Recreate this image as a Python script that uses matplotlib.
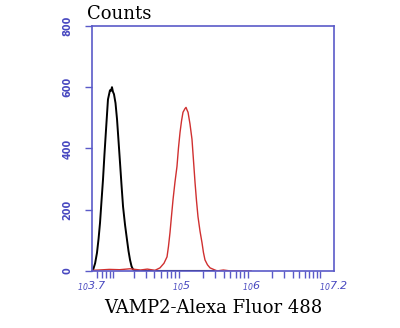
import numpy as np
import matplotlib
matplotlib.use("Agg")
import matplotlib.pyplot as plt
from matplotlib.ticker import FixedLocator, LogLocator, NullFormatter

# control (black) histogram, log10 intensity vs counts
ctrl_log = [3.70, 3.714, 3.745, 3.772, 3.795, 3.816, 3.838, 3.859, 3.880, 3.903,
            3.931, 3.960, 3.975, 3.989, 4.003, 4.018, 4.040, 4.062, 4.085, 4.105,
            4.127, 4.149, 4.178, 4.206, 4.228, 4.250, 4.272, 4.293, 4.336, 4.60,
            5.0, 5.5]
ctrl_counts = [0, 2, 25, 59, 105, 157, 230, 298, 380, 462,
               560, 590, 588, 600, 585, 577, 548, 495, 420, 354,
               280, 210, 150, 102, 65, 36, 15, 5, 0, 0,
               0, 0]

# VAMP2 stained (red) histogram
vamp_log = [3.70, 3.80, 3.95, 4.10, 4.25, 4.40, 4.50, 4.611, 4.683, 4.741, 4.785,
            4.806, 4.828, 4.850, 4.872, 4.900, 4.929, 4.950, 4.973, 4.995, 5.016,
            5.045, 5.060, 5.075, 5.089, 5.117, 5.146, 5.168, 5.190, 5.211, 5.233,
            5.262, 5.291, 5.312, 5.334, 5.370, 5.407, 5.508, 5.60, 5.70, 6.0]
vamp_counts = [2, 3, 5, 4, 7, 3, 6, 2, 10, 25, 46,
               80, 125, 180, 233, 290, 341, 400, 452, 490, 518,
               530, 534, 525, 518, 480, 430, 360, 289, 230, 177,
               130, 92, 60, 36, 20, 10, 0, 3, 0, 0]

xtick_exp = [3.7, 5, 6, 7.2]
xtick_labels = [r"$\mathregular{_{10}}$3.7", r"$\mathregular{_{10}}$5",
                r"$\mathregular{_{10}}$6", r"$\mathregular{_{10}}$7.2"]
yticks = [0, 200, 400, 600, 800]

axis_blue = "#5a5ac8"
label_blue = "#4848c0"

fig = plt.figure(figsize=(4, 3.28), dpi=100)
ax = fig.add_axes([0.23, 0.174, 0.605, 0.747])

ax.plot(10 ** np.array(ctrl_log), ctrl_counts, color="black", lw=1.4)
ax.plot(10 ** np.array(vamp_log), vamp_counts, color="#d03030", lw=1.0)

ax.set_xscale("log")
ax.set_xlim(10 ** 3.7, 10 ** 7.2)
ax.set_ylim(0, 800)

ax.xaxis.set_major_locator(FixedLocator([10 ** e for e in xtick_exp]))
ax.set_xticklabels(xtick_labels)
ax.xaxis.set_minor_locator(LogLocator(base=10, subs=np.arange(1, 10), numticks=20))
ax.xaxis.set_minor_formatter(NullFormatter())
ax.tick_params(axis="x", which="major", length=0, pad=6, colors=label_blue,
               labelsize=8)
ax.tick_params(axis="x", which="minor", length=5, width=1, color=axis_blue,
               direction="out")
for t in ax.get_xticklabels():
    t.set_fontstyle("italic")

ax.set_yticks(yticks)
ax.tick_params(axis="y", length=5, width=1, color=axis_blue, labelcolor=label_blue,
               labelsize=7, pad=9)
for t in ax.get_yticklabels():
    t.set_rotation(90)
    t.set_va("center")
    t.set_fontweight("bold")

for s in ax.spines.values():
    s.set_color(axis_blue)
    s.set_linewidth(1.2)

ax.text(-0.02, 1.01, "Counts", transform=ax.transAxes, ha="left", va="bottom",
        fontsize=13, family="DejaVu Serif")
ax.set_xlabel("VAMP2-Alexa Fluor 488", fontsize=13, family="DejaVu Serif",
              labelpad=4)

fig.savefig("out.png", dpi=100, facecolor="white")
